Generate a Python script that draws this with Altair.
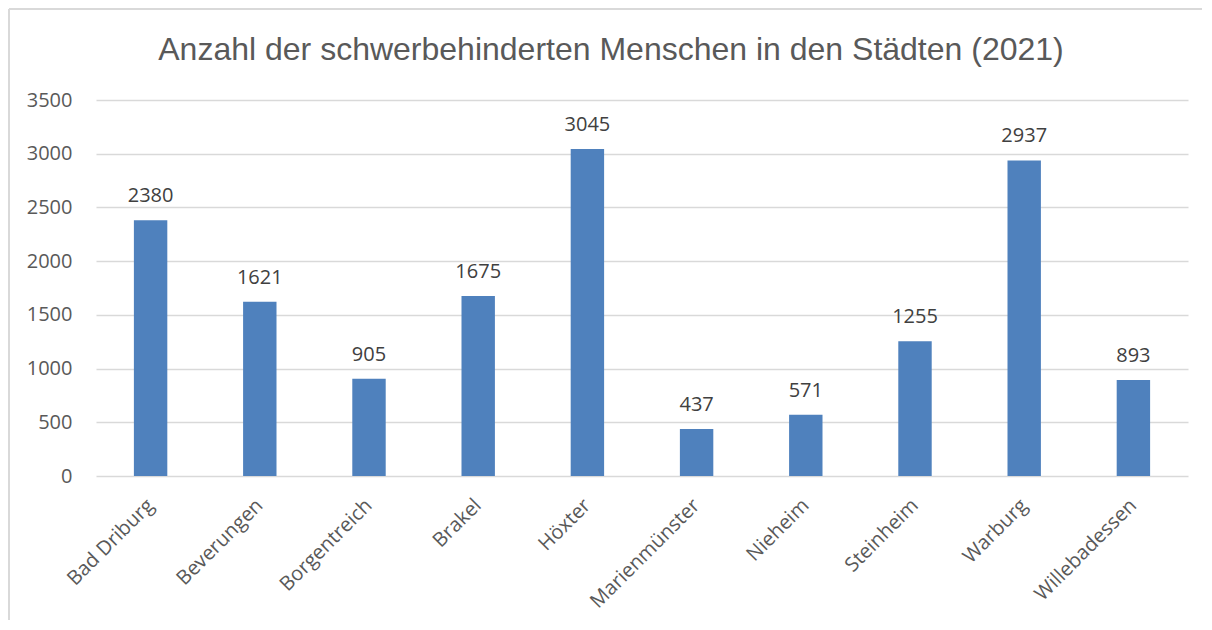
import altair as alt
import pandas as pd

staedte = ["Bad Driburg", "Beverungen", "Borgentreich", "Brakel", "Höxter",
           "Marienmünster", "Nieheim", "Steinheim", "Warburg", "Willebadessen"]
anzahl = [2380, 1621, 905, 1675, 3045, 437, 571, 1255, 2937, 893]
y_ticks = [0, 500, 1000, 1500, 2000, 2500, 3000, 3500]
titel = "Anzahl der schwerbehinderten Menschen in den Städten (2021)"
rahmen = ["oben", "links"]

df = pd.DataFrame({"Stadt": staedte, "Anzahl": anzahl})

W, H = 1092, 376

x_enc = alt.X("Stadt:N", sort=staedte, title=None,
              scale=alt.Scale(paddingInner=0.694, paddingOuter=0.347),
              axis=alt.Axis(labelAngle=-45, labelAlign="right", labelBaseline="middle",
                            labelPadding=26, ticks=False, domain=False,
                            labelFont="Open Sans", labelFontSize=20, labelColor="#595959",
                            labelOverlap=False))
y_enc = alt.Y("Anzahl:Q", title=None,
              scale=alt.Scale(domain=[0, 3500], nice=False),
              axis=alt.Axis(values=y_ticks, format="d", ticks=False, domain=False,
                            gridColor="#D9D9D9", gridWidth=1.3,
                            labelFont="Open Sans", labelFontSize=20, labelColor="#595959",
                            labelPadding=24))

bars = alt.Chart(df).mark_bar(color="#4F81BD").encode(x=x_enc, y=y_enc)

labels = alt.Chart(df).mark_text(font="Open Sans", fontSize=20, color="#404040",
                                 baseline="alphabetic", dy=-18).encode(
    x=alt.X("Stadt:N", sort=staedte),
    y=alt.Y("Anzahl:Q"),
    text=alt.Text("Anzahl:Q", format="d"))

# decorative chart border (top and left edges), in pixels relative to the plot area
frame = alt.Chart(pd.DataFrame({"seite": rahmen})).transform_calculate(
    px1="-87",
    px2="datum.seite == 'oben' ? 1200 : -87",
    py1="-91",
    py2="datum.seite == 'oben' ? -91 : 600",
).mark_rule(stroke="#D9D9D9", strokeWidth=2).encode(
    x=alt.X("px1:Q", scale=None), x2="px2:Q",
    y=alt.Y("py1:Q", scale=None), y2="py2:Q")

title_mark = alt.Chart(pd.DataFrame({"t": [titel]})).mark_text(
    font="Liberation Sans", fontSize=32, color="#595959", align="center",
    baseline="alphabetic").encode(x=alt.value(515), y=alt.value(-40), text="t:N")

chart = alt.layer(frame, bars, labels, title_mark).properties(
    width=W, height=H,
    autosize=alt.AutoSizeParams(type="none"),
    padding={"left": 88, "top": 92, "right": 14, "bottom": 144},
).configure_view(stroke=None)

chart.save("out.html", embed_options={"renderer": "svg", "actions": False})
